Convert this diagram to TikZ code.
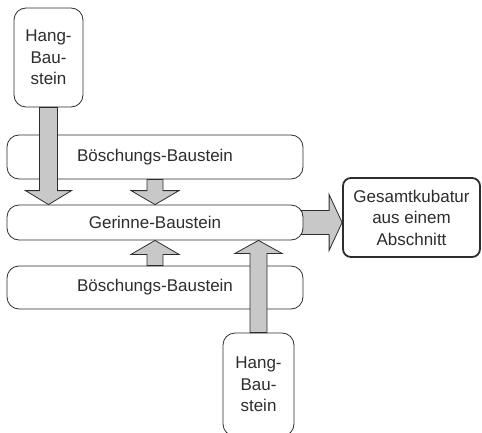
\documentclass[tikz,border=0pt]{standalone}
\usepackage{fontspec}
\setmainfont{Liberation Sans}
\usetikzlibrary{calc, backgrounds}
\definecolor{boxline}{RGB}{45,45,45}
\definecolor{arrowgray}{RGB}{200,200,200}

% block arrow: shaft half width, head half width, head length, from, to
\newcommand{\fatarrow}[5]{%
  \coordinate (fa-s) at (#4);
  \coordinate (fa-t) at (#5);
  \coordinate (fa-b) at ($(fa-t)!#3!(fa-s)$);
  \filldraw[arrowbody] ($(fa-s)!#1!90:(fa-t)$) -- ($(fa-b)!#1!90:(fa-t)$)
    -- ($(fa-b)!#2!90:(fa-t)$) -- (fa-t) -- ($(fa-b)!#2!-90:(fa-t)$)
    -- ($(fa-b)!#1!-90:(fa-t)$) -- ($(fa-s)!#1!-90:(fa-t)$) -- cycle;
}

\begin{document}
\begin{tikzpicture}[x=1pt, y=-1pt,
    box/.style={draw=boxline, fill=white, rounded corners=12pt, line width=0.8pt,
                align=center, text=boxline, font=\fontsize{17}{21.5}\selectfont},
    arrowbody/.style={draw=boxline, fill=arrowgray, line width=0.8pt, line join=miter}]
    \useasboundingbox (0,0) rectangle (482,433);

    % Hang-Baustein (top)
    \node[box, minimum width=69pt, minimum height=99pt] (hangA) at (48.5,57.5) {Hang-\\Bau-\\stein};

    % three long blocks
    \node[box, minimum width=296pt, minimum height=44pt] (boeA) at (155,157) {Böschungs-Baustein};
    \node[box, minimum width=296pt, minimum height=35pt] (gerinne) at (155,222.5) {Gerinne-Baustein};
    \node[box, minimum width=296pt, minimum height=43pt] (boeB) at (155,287.5) {Böschungs-Baustein};

    % Hang-Baustein (bottom)
    \node[box, minimum width=71pt, minimum height=103pt] (hangB) at (258.5,384.5) {Hang-\\Bau-\\stein};

    % result
    \node[box, minimum width=137pt, minimum height=79pt, rounded corners=8pt, line width=1.8pt]
        (gesamt) at (411.5,217.5) {Gesamtkubatur\\aus einem\\Abschnitt};

    % arrows
    \begin{pgfonlayer}{background}
        \fatarrow{12pt}{28pt}{13pt}{$(gerinne.east)+(-8,0)$}{gerinne.east -| gesamt.west}
    \end{pgfonlayer}
    \fatarrow{9pt}{23pt}{14pt}{hangA.south}{gerinne.north -| hangA.south}
    \fatarrow{8pt}{24pt}{14pt}{boeA.south}{gerinne.north}
    \fatarrow{8pt}{24pt}{14pt}{boeB.north}{gerinne.south}
    \fatarrow{8.5pt}{23.5pt}{13pt}{hangB.north}{gerinne.south -| hangB.north}
\end{tikzpicture}
\end{document}
